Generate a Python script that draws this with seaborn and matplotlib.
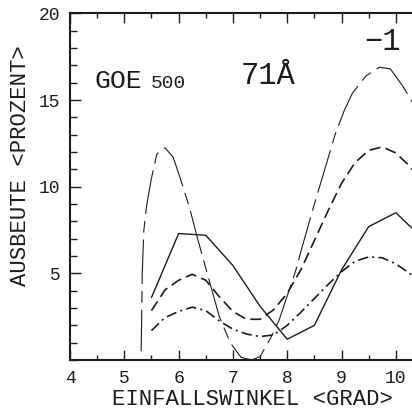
import matplotlib
matplotlib.use("Agg")
import matplotlib.pyplot as plt
import seaborn as sns
from matplotlib.ticker import MultipleLocator, FixedLocator

# ---- data ----
# solid curve
solid_x = [5.5, 6.0, 6.5, 7.0, 7.5, 8.0, 8.5, 9.0, 9.5, 10.0, 10.5]
solid_y = [3.6, 7.3, 7.2, 5.45, 3.1, 1.2, 2.0, 5.2, 7.7, 8.5, 7.0]

# medium-dashed curve
dash_x = [5.5, 5.75, 6.0, 6.25, 6.5, 6.75, 7.0, 7.25, 7.5, 7.75, 8.0,
          8.25, 8.5, 8.75, 9.0, 9.25, 9.5, 9.75, 10.0, 10.25, 10.5]
dash_y = [2.85, 4.05, 4.6, 4.95, 4.6, 3.65, 2.8, 2.35, 2.35, 2.9, 3.85,
          5.2, 6.9, 8.6, 10.2, 11.4, 12.1, 12.3, 11.95, 11.2, 10.2]

# dash-dot curve
dashdot_x = [5.5, 5.75, 6.0, 6.25, 6.5, 6.75, 7.0, 7.25, 7.5, 7.75, 8.0,
             8.25, 8.5, 8.75, 9.0, 9.25, 9.5, 9.75, 10.0, 10.25, 10.5]
dashdot_y = [1.7, 2.45, 2.8, 3.05, 2.85, 2.25, 1.78, 1.5, 1.35, 1.45, 2.0,
             2.75, 3.55, 4.35, 5.1, 5.7, 5.95, 5.9, 5.55, 5.0, 4.5]

# long-dashed curve
long_x = [5.31, 5.32, 5.33, 5.36, 5.41, 5.5, 5.6, 5.75, 5.9, 6.05, 6.2,
          6.35, 6.5, 6.75, 6.95, 7.15, 7.35, 7.5, 7.7, 7.85, 8.0, 8.15,
          8.3, 8.5, 8.7, 8.88, 9.05, 9.2, 9.45, 9.7, 9.9, 10.13, 10.3, 10.5]
long_y = [0.5, 2.5, 5.0, 7.5, 8.9, 10.5, 11.9, 12.25, 11.7, 10.3, 8.8,
          7.0, 5.3, 2.5, 1.0, 0.15, 0.0, 0.2, 1.3, 2.3, 3.7, 5.1,
          6.8, 9.0, 11.1, 13.0, 14.4, 15.4, 16.4, 16.9, 16.8, 15.8, 14.9, 13.6]

x_ticks = [4, 5, 6, 7, 8, 9, 10]
x_ticklabels = ["4", "5", "6", "7", "8", "9", "10"]
y_ticks = [5, 10, 15, 20]
y_ticklabels = ["5", "10", "15", "20"]

# ---- style ----
sns.set_style("ticks")
plt.rcParams["font.family"] = ["Liberation Mono", "DejaVu Sans"]
ink = "#1c1c1c"

W, H = 412, 409
fig = plt.figure(figsize=(W / 100, H / 100), dpi=100)
ax_left, ax_right, ax_top, ax_bottom = 70, 423, 13.5, 360
ax = fig.add_axes([ax_left / W, (H - ax_bottom) / H,
                   (ax_right - ax_left) / W, (ax_bottom - ax_top) / H])

# dash patterns given in units of line width (matplotlib scales them)
sns.lineplot(x=long_x, y=long_y, ax=ax, color=ink, lw=0.8,
             linestyle=(2.5, (40, 6.25, 10.6, 6.25)), sort=False)
sns.lineplot(x=solid_x, y=solid_y, ax=ax, color=ink, lw=1.0, linestyle="-")
sns.lineplot(x=dash_x, y=dash_y, ax=ax, color=ink, lw=1.2,
             linestyle=(0, (6.7, 3.2)))
sns.lineplot(x=dashdot_x, y=dashdot_y, ax=ax, color=ink, lw=1.2,
             linestyle=(0, (6.25, 2.5, 1.25, 2.5)))

ax.set_xlim(4, 10.5)
ax.set_ylim(0, 20)
ax.set_axisbelow(False)

ax.xaxis.set_major_locator(FixedLocator(x_ticks))
ax.set_xticklabels(x_ticklabels)
ax.xaxis.set_minor_locator(MultipleLocator(0.5))
ax.yaxis.set_major_locator(FixedLocator(y_ticks))
ax.set_yticklabels(y_ticklabels)
ax.yaxis.set_minor_locator(MultipleLocator(1))

ax.tick_params(axis="x", which="both", direction="in", top=True, bottom=True,
               color=ink, labelcolor=ink, width=1.0, labelsize=13, pad=7)
ax.tick_params(axis="x", which="major", length=7.5)
ax.tick_params(axis="x", which="minor", length=3.6)
ax.tick_params(axis="y", which="both", direction="in", left=True, right=False,
               color=ink, labelcolor=ink, width=1.0, labelsize=13, pad=7)
ax.tick_params(axis="y", which="major", length=8)
ax.tick_params(axis="y", which="minor", length=5)

for side in ["left", "bottom", "top"]:
    ax.spines[side].set_linewidth(1.5)
    ax.spines[side].set_color(ink)

ax.set_xlabel("EINFALLSWINKEL <GRAD>", fontsize=16, color=ink)
ax.set_ylabel("AUSBEUTE <PROZENT>", fontsize=16, color=ink)
axw = ax_right - ax_left
axh = ax_bottom - ax_top
ax.xaxis.set_label_coords((252 - ax_left) / axw, (ax_bottom - 389) / axh)
ax.yaxis.set_label_coords((31 - ax_left) / axw, (ax_bottom - 166) / axh)


def fx(px):
    return px / W


def fy(py):
    return 1 - py / H


fig.text(fx(94), fy(88), "GOE", fontsize=19, color=ink, ha="left", va="baseline")
fig.text(fx(151), fy(88), "500", fontsize=14, color=ink, ha="left", va="baseline")
fig.text(fx(241), fy(84), "71Å", fontsize=22, color=ink, ha="left", va="baseline")
fig.text(fx(364), fy(50), "−1", fontsize=22, color=ink, ha="left", va="baseline")

fig.canvas.draw()
fig.savefig("out.png", dpi=100)
